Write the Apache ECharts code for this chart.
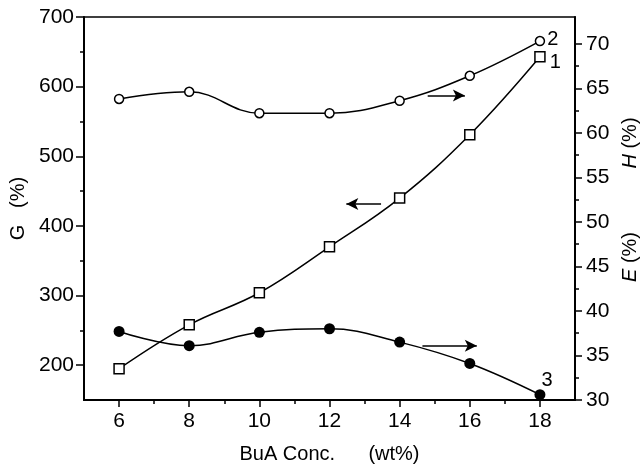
<!DOCTYPE html>
<html>
<head>
<meta charset="utf-8">
<script src="https://cdn.jsdelivr.net/npm/echarts@6/dist/echarts.min.js"></script>
<style>
  html, body { margin: 0; background: #fff; }
  #chart { width: 640px; height: 470px; }
</style>
</head>
<body>
<div id="chart"></div>
<script>
// BuA concentration (wt%)
const conc = [6, 8, 10, 12, 14, 16, 18]
// curve 1: G (%), left axis
const gValues = [195, 258, 304, 370, 440, 531, 643]
// curve 2: H (%), right axis
const hValues = [63.8, 64.6, 62.2, 62.2, 63.6, 66.4, 70.3]
// curve 3: E (%), right axis
const eValues = [37.7, 36.1, 37.6, 38.0, 36.5, 34.1, 30.6]

const xTicks = [6, 8, 10, 12, 14, 16, 18]
const xMinorTicks = [7, 9, 11, 13, 15, 17]
const gTicks = [200, 300, 400, 500, 600, 700]
const gMinorTicks = [250, 350, 450, 550, 650]
const rightTicks = [30, 35, 40, 45, 50, 55, 60, 65, 70]
const rightMinorTicks = [32.5, 37.5, 42.5, 47.5, 52.5, 57.5, 62.5, 67.5]

// arrows telling which axis each curve belongs to (data coords)
const arrowG = [[13.47, 431.6], [12.48, 431.6]]
const arrowH = [[14.8, 64.2], [15.86, 64.2]]
const arrowE = [[14.65, 36.1], [16.2, 36.1]]

const FONT = 'Liberation Sans'
const last = conc.length - 1

function pairs(values) {
  return conc.map((x, i) => [x, values[i]])
}

function arrow(pts) {
  return {
    silent: true,
    animation: false,
    symbol: ['none', 'arrow'],
    symbolSize: [9, 12],
    label: { show: false },
    lineStyle: { type: 'solid', color: '#000', width: 1.5 },
    data: [[{ coord: pts[0] }, { coord: pts[1] }]]
  }
}

function endLabel(text, offset) {
  return {
    show: true,
    position: 'right',
    distance: 4,
    offset: offset,
    color: '#000',
    fontFamily: FONT,
    fontSize: 20,
    formatter: p => (p.dataIndex === last ? text : '')
  }
}

const axisBase = {
  axisLine: { lineStyle: { color: '#000', width: 2 } },
  splitLine: { show: false },
  nameTextStyle: { color: '#000', fontFamily: FONT, fontSize: 20 }
}

function minorAxis(position, min, max, ticks) {
  return {
    type: 'value',
    position: position,
    min: min,
    max: max,
    axisLine: { show: false },
    splitLine: { show: false },
    axisLabel: { show: false, customValues: ticks },
    axisTick: { show: true, customValues: ticks, length: 4, lineStyle: { color: '#000', width: 1.5 } }
  }
}

const chart = echarts.init(document.getElementById('chart'))
chart.setOption({
  animation: false,
  backgroundColor: '#fff',
  grid: {
    left: 83,
    right: 65,
    top: 17,
    bottom: 70,
    show: true,
    borderColor: '#000',
    borderWidth: 1.5
  },
  xAxis: [
    Object.assign({}, axisBase, {
      type: 'value',
      position: 'bottom',
      min: 5,
      max: 19,
      axisTick: { customValues: xTicks, length: 7, lineStyle: { color: '#000', width: 1.5 } },
      axisLabel: { customValues: xTicks, margin: 11, color: '#000', fontFamily: FONT, fontSize: 21 },
      name: 'BuA Conc.      (wt%)',
      nameLocation: 'middle',
      nameGap: 44
    }),
    minorAxis('bottom', 5, 19, xMinorTicks)
  ],
  yAxis: [
    Object.assign({}, axisBase, {
      type: 'value',
      position: 'left',
      min: 150,
      max: 700,
      axisTick: { customValues: gTicks, length: 8, lineStyle: { color: '#000', width: 1.5 } },
      axisLabel: { customValues: gTicks, margin: 10, color: '#000', fontFamily: FONT, fontSize: 21 },
      name: 'G   (%)',
      nameLocation: 'middle',
      nameGap: 56
    }),
    Object.assign({}, axisBase, {
      type: 'value',
      position: 'right',
      min: 30,
      max: 73,
      axisTick: { customValues: rightTicks, length: 7, lineStyle: { color: '#000', width: 1.5 } },
      axisLabel: { customValues: rightTicks, margin: 11, color: '#000', fontFamily: FONT, fontSize: 21 }
    }),
    minorAxis('left', 150, 700, gMinorTicks),
    minorAxis('right', 30, 73, rightMinorTicks)
  ],
  graphic: [
    {
      type: 'text',
      x: 630,
      y: 143,
      rotation: Math.PI / 2,
      style: {
        text: '{i|H} (%)',
        align: 'center',
        verticalAlign: 'middle',
        textAlign: 'center',
        textVerticalAlign: 'middle',
        fill: '#000',
        font: '20px ' + FONT,
        rich: { i: { fontStyle: 'italic', fontSize: 20, fontFamily: FONT, fill: '#000' } }
      }
    },
    {
      type: 'text',
      x: 630,
      y: 257,
      rotation: Math.PI / 2,
      style: {
        text: '{i|E} (%)',
        align: 'center',
        verticalAlign: 'middle',
        textAlign: 'center',
        textVerticalAlign: 'middle',
        fill: '#000',
        font: '20px ' + FONT,
        rich: { i: { fontStyle: 'italic', fontSize: 20, fontFamily: FONT, fill: '#000' } }
      }
    }
  ],
  series: [
    {
      name: 'G',
      type: 'line',
      yAxisIndex: 0,
      smooth: 0.4,
      symbol: 'rect',
      symbolSize: 10,
      lineStyle: { color: '#000', width: 1.5 },
      itemStyle: { color: '#fff', borderColor: '#000', borderWidth: 1.5 },
      label: endLabel('1', [0, 6]),
      markLine: arrow(arrowG),
      data: pairs(gValues)
    },
    {
      name: 'H',
      type: 'line',
      yAxisIndex: 1,
      smooth: 0.4,
      symbol: 'circle',
      symbolSize: 9,
      lineStyle: { color: '#000', width: 1.5 },
      itemStyle: { color: '#fff', borderColor: '#000', borderWidth: 1.5 },
      label: endLabel('2', [-2, -2]),
      markLine: arrow(arrowH),
      data: pairs(hValues)
    },
    {
      name: 'E',
      type: 'line',
      yAxisIndex: 1,
      smooth: 0.4,
      symbol: 'circle',
      symbolSize: 11,
      lineStyle: { color: '#000', width: 1.5 },
      itemStyle: { color: '#000' },
      label: endLabel('3', [-8, -14]),
      markLine: arrow(arrowE),
      data: pairs(eValues)
    }
  ]
})
</script>
</body>
</html>
